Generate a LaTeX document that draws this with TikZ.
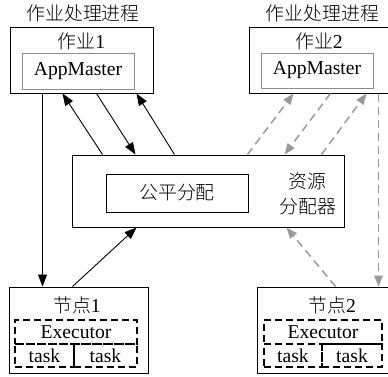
\documentclass[tikz,border=0pt]{standalone}
\usepackage{fontspec}
\setmainfont{Liberation Serif}[Scale=1.09]
\newfontfamily\cjk{Noto Sans CJK SC Light}[Scale=1.05]
\usetikzlibrary{arrows.meta}
\definecolor{arrowgray}{HTML}{9A9A9A}
\definecolor{framegray}{HTML}{8C8C8C}
\begin{document}
\begin{tikzpicture}[x=1pt, y=-1pt,
  font=\fontsize{18}{20}\selectfont,
  box/.style={draw, line width=1pt, inner sep=0pt},
  innerbox/.style={draw=framegray, line width=1pt, inner sep=0pt},
  dashbox/.style={draw, line width=1.6pt, dash pattern=on 7pt off 4pt, inner sep=0pt},
  plain/.style={inner sep=0pt},
  solidarrow/.style={line width=0.9pt, -{Triangle[length=12pt, width=9pt]}},
  grayarrow/.style={draw=arrowgray, line width=1.5pt, dash pattern=on 8pt off 5pt,
    -{Triangle[length=11pt, width=8.5pt, fill=arrowgray]}}]
\useasboundingbox (0,0) rectangle (388,376);
\clip (0,0) rectangle (388,376);

% job 1
\node[plain] (title1) at (83,13) {\cjk 作业处理进程};
\node[box, minimum width=143pt, minimum height=66pt] (job1) at (81.5,60) {};
\node[plain] (job1t) at (81.5,41) {{\cjk 作业}1};
\node[innerbox, minimum width=112pt, minimum height=36pt] (am1) at (78,71) {AppMaster};

% job 2
\node[plain] (title2) at (322.5,13) {\cjk 作业处理进程};
\node[box, minimum width=146pt, minimum height=66pt] (job2) at (322,60) {};
\node[plain] (job2t) at (319,41) {{\cjk 作业}2};
\node[innerbox, minimum width=112pt, minimum height=35pt] (am2) at (317,70.5) {AppMaster};

% resource allocator
\node[box, minimum width=272pt, minimum height=72pt] (alloc) at (208,191) {};
\node[box, minimum width=142pt, minimum height=38pt] (fair) at (177,193) {\cjk 公平分配};
\node[plain] (res1) at (307,181) {\cjk 资源};
\node[plain] (res2) at (308,207) {\cjk 分配器};

% node 1
\node[box, minimum width=139pt, minimum height=86pt] (node1) at (78.5,330) {};
\node[plain] (node1t) at (77,305) {{\cjk 节点}1};
\node[dashbox, minimum width=122pt, minimum height=24pt] (exec1) at (76,332) {Executor};
\node[dashbox, minimum width=59pt, minimum height=23pt] (task1a) at (44.5,355.5) {task};
\node[dashbox, minimum width=63pt, minimum height=23pt] (task1b) at (105.5,355.5) {task};

% node 2
\node[box, minimum width=138pt, minimum height=86pt] (node2) at (326,330) {};
\node[plain] (node2t) at (332,305) {{\cjk 节点}2};
\node[dashbox, minimum width=118pt, minimum height=24pt] (exec2) at (323,332) {Executor};
\node[dashbox, minimum width=58pt, minimum height=23pt] (task2a) at (293,355.5) {task};
\node[dashbox, minimum width=60pt, minimum height=23pt] (task2b) at (352,355.5) {task};

% job 1 connections
\draw[solidarrow] ([xshift=33pt]job1.south west) -- ([xshift=34pt]node1.north west);
\draw[solidarrow] ([xshift=31pt]alloc.north west) -- ([xshift=53pt]job1.south west);
\draw[solidarrow] ([xshift=87pt]job1.south west) -- ([xshift=64pt]alloc.north west);
\draw[solidarrow] ([xshift=103pt]alloc.north west) -- ([xshift=127pt]job1.south west);
\draw[solidarrow] ([xshift=64pt]node1.north west) -- ([xshift=65pt]alloc.south west);

% job 2 connections
\draw[grayarrow] ([xshift=176pt]alloc.north west) -- ([xshift=45pt]job2.south west);
\draw[grayarrow] ([xshift=82pt]job2.south west) -- ([xshift=213pt]alloc.north west);
\draw[grayarrow] ([xshift=250pt]alloc.north west) -- ([xshift=118pt]job2.south west);
\draw[grayarrow] ([xshift=130pt]job2.south west) -- ([xshift=122pt]node2.north west);
\draw[grayarrow] ([xshift=79pt]node2.north west) -- ([xshift=215pt]alloc.south west);
\end{tikzpicture}
\end{document}
